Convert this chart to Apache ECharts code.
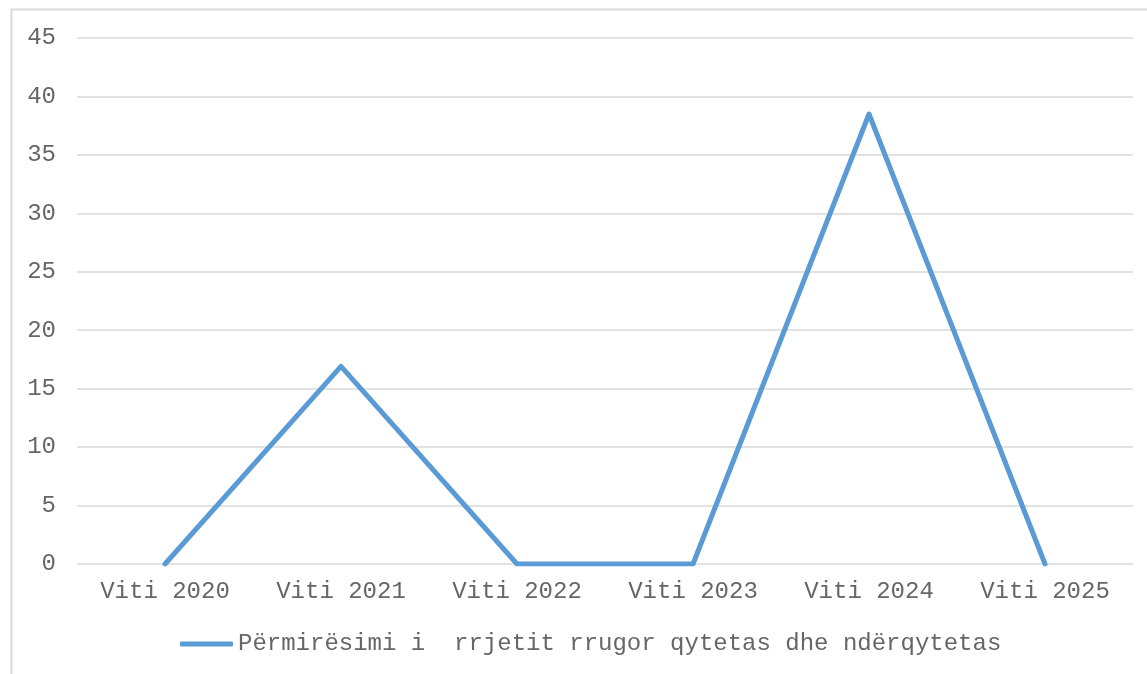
<!DOCTYPE html>
<html>
<head>
<meta charset="utf-8">
<script src="https://cdn.jsdelivr.net/npm/echarts@6/dist/echarts.min.js"></script>
<style>html,body{margin:0;padding:0;background:#fff}#c{width:1147px;height:674px}</style>
</head>
<body>
<div id="c"></div>
<script>
const categories = ['Viti 2020', 'Viti 2021', 'Viti 2022', 'Viti 2023', 'Viti 2024', 'Viti 2025'];
const seriesName = 'Përmirësimi i  rrjetit rrugor qytetas dhe ndërqytetas';
const values = [0, 16.9, 0, 0, 38.5, 0];
const yMin = 0, yMax = 45, yStep = 5;

const font = '"Liberation Mono", "Courier New", monospace';
const txtColor = '#666666';
const chart = echarts.init(document.getElementById('c'), null, {renderer: 'canvas'});
chart.setOption({
  animation: false,
  backgroundColor: '#fff',
  graphic: [{
    type: 'rect', left: 9, top: 7, silent: true,
    shape: {x: 0, y: 0, width: 1300, height: 1000},
    style: {fill: 'none', stroke: '#d9d9d9', lineWidth: 2}
  }],
  grid: {left: 77, right: 14, top: 38, bottom: 110, containLabel: false},
  legend: {
    left: 175, top: 627,
    icon: 'roundRect', itemWidth: 53, itemHeight: 5,
    textStyle: {fontFamily: font, fontSize: 24, color: txtColor},
    data: [seriesName]
  },
  xAxis: {
    type: 'category', data: categories, boundaryGap: true,
    axisLine: {show: false}, axisTick: {show: false},
    axisLabel: {fontFamily: font, fontSize: 24, color: txtColor, margin: 16}
  },
  yAxis: {
    type: 'value', min: yMin, max: yMax, interval: yStep,
    axisLine: {show: false}, axisTick: {show: false},
    axisLabel: {fontFamily: font, fontSize: 24, color: txtColor, margin: 21},
    splitLine: {lineStyle: {color: '#d9d9d9', width: 1.5}}
  },
  series: [{
    name: seriesName, type: 'line', data: values,
    symbol: 'none', showSymbol: false,
    itemStyle: {color: '#5b9bd5'},
    lineStyle: {color: '#5b9bd5', width: 5, cap: 'round', join: 'round'}
  }]
});
</script>
</body>
</html>
